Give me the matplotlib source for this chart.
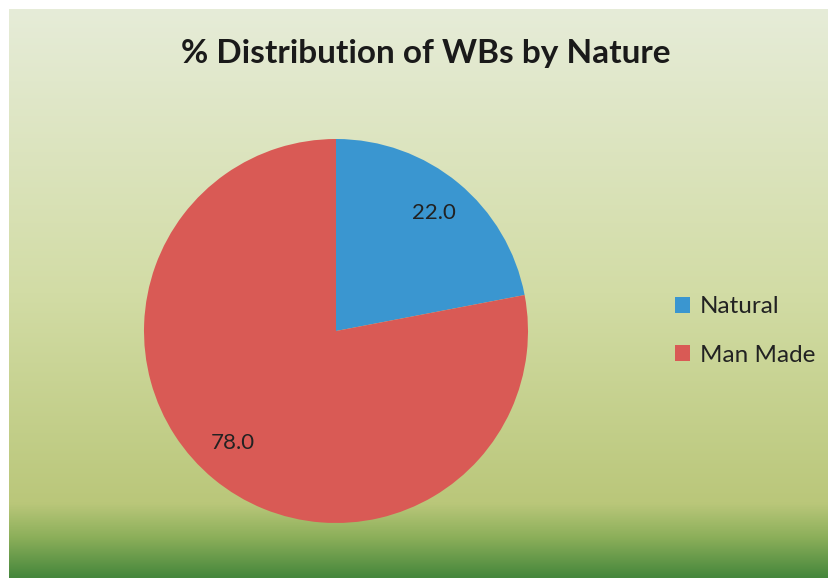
import numpy as np
import matplotlib.pyplot as plt
from matplotlib.colors import LinearSegmentedColormap

plt.rcParams['font.family'] = ['Lato', 'DejaVu Sans']

categories = ['Natural', 'Man Made']
shares = [22.0, 78.0]
colors = ['#3a96d0', '#d95a55']
title = '% Distribution of WBs by Nature'

W, H = 829, 578
fig = plt.figure(figsize=(W / 100, H / 100), dpi=100)
fig.patch.set_facecolor('white')

# background panel with vertical gradient
bg = fig.add_axes([9 / W, 0, (W - 9) / W, (H - 9) / H])
bg_cmap = LinearSegmentedColormap.from_list('bg', [
    (0.00, (230/255, 236/255, 216/255)),
    (0.50, (210/255, 220/255, 165/255)),
    (0.87, (186/255, 199/255, 122/255)),
    (0.93, (140/255, 175/255, 90/255)),
    (1.00, (70/255, 135/255, 60/255)),
])
grad = np.linspace(0, 1, 256).reshape(-1, 1)
bg.imshow(grad, aspect='auto', cmap=bg_cmap, extent=[0, 1, 0, 1])
bg.set_axis_off()

# pie axes: centre (336,331), radius ~192 px
r = 192
cx, cy = 336, 331
ax = fig.add_axes([(cx - r) / W, (H - cy - r) / H, 2 * r / W, 2 * r / H])
wedges, _, autotexts = ax.pie(shares, colors=colors, startangle=90, counterclock=False,
                              autopct='%.1f', pctdistance=0.8, radius=1,
                              textprops=dict(fontsize=16, color='#222222'))
# excel "best fit" puts the big label a little further left
autotexts[1].set_position((-0.54, -0.585))
ax.set_xlim(-1, 1)
ax.set_ylim(-1, 1)
ax.set_aspect('auto')
ax.set_axis_off()

fig.text(426 / W, 1 - 53 / H, title, ha='center', va='center',
         fontsize=24, fontweight='bold', color='#1a1a1a')

fig.legend(wedges, categories, loc='center left',
           bbox_to_anchor=(675 / W, 1 - 331 / H), frameon=False,
           borderpad=0, borderaxespad=0,
           fontsize=17.5, handlelength=0.62, handleheight=0.62,
           handletextpad=0.4, labelspacing=1.12, labelcolor='#222222')

fig.savefig('out.png', dpi=100)
